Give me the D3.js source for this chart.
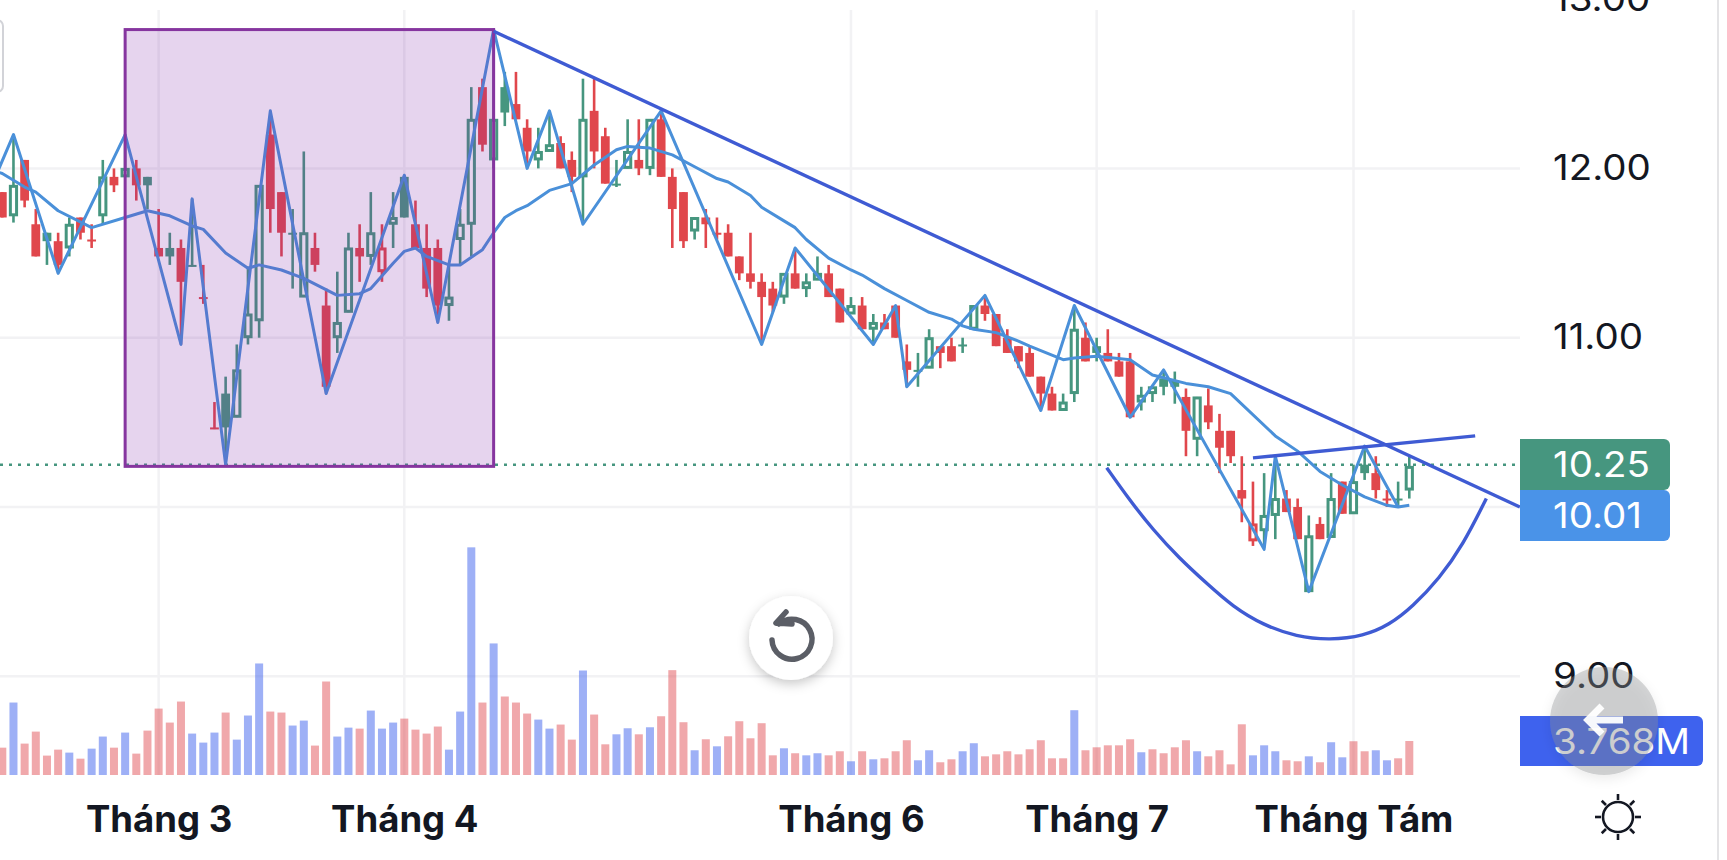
<!DOCTYPE html>
<html>
<head>
<meta charset="utf-8">
<script src="https://cdn.jsdelivr.net/npm/d3@7"></script>
<style>
  html, body { margin: 0; padding: 0; background: #fff; overflow: hidden; }
  svg { display: block; font-family: Inter, Roboto, sans-serif; }
</style>
</head>
<body>
<svg id="chart" width="1727" height="860"></svg>
<script>
// candles, one column per session: high, body top, body bottom, low
const highs = [
  11.86,12.20,12.05,11.76,11.62,11.62,11.71,11.71,11.67,12.05,12.00,12.20,12.05,11.95,11.76,11.62,
  11.58,11.82,11.43,10.62,10.77,10.96,11.42,11.90,12.34,11.86,11.76,12.10,11.62,11.29,11.39,11.62,
  11.67,11.86,11.67,11.86,11.96,11.81,11.67,11.58,11.43,11.76,12.48,12.53,12.82,12.57,12.57,12.29,
  12.24,12.34,12.19,12.10,12.53,12.53,12.24,12.05,12.29,12.29,12.29,12.34,12.00,11.86,11.71,11.76,
  11.71,11.67,11.48,11.62,11.38,11.33,11.38,11.53,11.38,11.48,11.43,11.29,11.24,11.24,11.14,11.14,
  11.19,10.96,10.91,11.05,10.95,11.00,11.00,11.19,11.24,11.14,11.05,10.95,10.95,10.77,10.71,10.67,
  11.19,11.09,11.00,11.05,10.91,10.91,10.71,10.71,10.81,10.80,10.70,10.65,10.70,10.55,10.45,10.30,
  10.15,10.20,10.30,10.10,10.05,9.95,9.94,10.20,10.15,10.25,10.36,10.30,10.10,10.15,10.30
];
const bodyTops = [
  11.86,11.90,12.05,11.67,11.62,11.57,11.67,11.71,11.58,11.95,11.95,12.00,12.00,11.95,11.53,11.53,
  11.53,11.43,11.24,10.47,10.67,10.81,11.14,11.90,12.20,11.86,11.62,11.62,11.53,11.19,11.09,11.53,
  11.53,11.62,11.53,11.71,11.95,11.67,11.53,11.53,11.24,11.67,12.29,12.48,12.29,12.48,12.38,12.24,
  12.10,12.14,12.15,12.05,12.29,12.34,12.19,11.91,12.10,12.05,12.29,12.29,11.95,11.86,11.71,11.71,
  11.62,11.62,11.48,11.38,11.33,11.29,11.38,11.38,11.33,11.38,11.38,11.29,11.19,11.19,11.09,11.09,
  11.19,10.86,10.81,11.00,10.95,10.95,10.96,11.19,11.19,11.14,11.00,10.95,10.91,10.77,10.67,10.62,
  11.05,11.00,10.95,10.91,10.86,10.86,10.66,10.71,10.76,10.75,10.65,10.65,10.60,10.45,10.45,10.10,
  9.90,9.95,10.05,10.05,10.00,9.83,9.90,10.05,10.15,10.15,10.25,10.20,10.05,10.05,10.24
];
const bodyBottoms = [
  11.71,11.72,11.81,11.48,11.57,11.43,11.53,11.62,11.58,11.72,11.90,11.95,11.90,11.90,11.48,11.48,
  11.33,11.43,11.24,10.47,10.47,10.53,11.00,11.10,11.76,11.62,11.62,11.24,11.43,10.71,11.00,11.15,
  11.48,11.48,11.39,11.67,11.71,11.53,11.29,11.19,11.19,11.58,11.67,12.14,12.05,12.33,12.29,12.10,
  12.05,12.10,12.00,11.95,11.95,12.10,11.91,11.91,12.00,12.00,12.00,11.95,11.76,11.57,11.63,11.67,
  11.62,11.48,11.38,11.33,11.24,11.19,11.24,11.29,11.29,11.34,11.24,11.09,11.14,11.05,11.05,11.05,
  11.00,10.81,10.81,10.82,10.91,10.86,10.96,11.05,11.14,10.95,10.91,10.86,10.77,10.67,10.57,10.57,
  10.67,10.86,10.91,10.86,10.77,10.53,10.62,10.67,10.71,10.71,10.45,10.40,10.50,10.35,10.30,10.05,
  9.80,9.86,9.95,9.97,9.81,9.50,9.81,9.82,9.96,9.96,10.20,10.10,10.05,10.05,10.10
];
const lows = [
  11.71,11.68,11.77,11.48,11.43,11.38,11.48,11.58,11.53,11.67,11.86,11.95,11.81,11.76,11.48,11.43,
  10.96,11.42,11.20,10.46,10.25,10.53,10.96,11.00,11.62,11.48,11.29,11.24,11.39,10.67,10.91,11.15,
  11.33,11.43,11.33,11.53,11.71,11.53,11.24,11.09,11.10,11.43,11.48,12.10,12.00,12.25,12.29,12.00,
  12.00,12.10,12.00,11.86,11.68,12.00,11.91,11.89,12.00,11.96,11.96,11.95,11.53,11.53,11.58,11.53,
  11.58,11.48,11.34,11.29,10.96,11.15,11.20,11.29,11.24,11.34,11.24,11.09,11.14,11.05,10.96,11.05,
  11.00,10.71,10.71,10.82,10.82,10.86,10.91,11.05,11.10,10.95,10.91,10.82,10.77,10.57,10.57,10.57,
  10.62,10.86,10.86,10.86,10.77,10.53,10.57,10.62,10.66,10.61,10.30,10.30,10.46,10.20,10.26,9.91,
  9.77,9.76,9.81,9.97,9.81,9.50,9.81,9.82,9.96,9.96,10.16,10.05,10.00,10.00,10.05
];
// h = hollow green, g = filled green, r = filled red, o = hollow red
const candleKinds = [
  'r','h','r','r','g','r','h','r','r','h',
  'r','h','r','g','r','g','r','g','r','r',
  'g','h','h','h','r','r','g','h','r','r',
  'h','h','r','h','o','h','g','r','r','r',
  'h','h','h','r','h','g','r','r','h','h',
  'r','r','h','r','r','g','h','r','h','r',
  'r','r','h','r','r','r','r','r','r','r',
  'h','r','h','h','r','r','h','r','h','r',
  'r','r','g','h','r','r','g','h','r','r',
  'r','r','r','r','r','h','h','r','g','r',
  'r','r','h','h','g','g','r','h','r','r',
  'r','r','o','h','h','r','r','h','r','h',
  'r','h','g','r','r','g','h'
];

// volume in millions, 1 = blue bar, 0 = pink bar
const volumes = [
  3.03,8.03,3.48,4.81,2.15,2.81,2.48,1.81,2.92,4.26,3.03,4.70,2.37,4.92,7.36,5.81,8.14,4.59,3.59,4.70,6.92,
  3.92,6.59,12.36,7.03,6.92,5.48,6.03,3.26,10.36,4.26,5.25,5.14,7.14,5.14,5.81,6.25,5.03,4.59,5.37,2.81,7.03,
  25.23,8.03,14.58,8.70,8.03,6.81,6.14,5.14,5.59,3.92,11.58,6.70,
  3.40,4.51,5.18,4.51,5.29,6.51,11.62,5.85,2.74,3.96,3.18,4.29,5.96,4.07,5.74,2.18,2.96,2.41,2.18,2.41,2.18,
  2.63,1.52,2.63,1.74,1.85,2.63,3.85,1.63,2.74,1.41,1.74,2.63,3.52,2.07,2.29,2.63,2.29,2.85,3.85,1.85,1.85,
  7.18,2.74,3.07,3.29,3.29,3.96,2.52,2.85,2.41,3.07,3.85,2.63,2.07,2.74,1.18,5.62,2.18,3.29,2.63,1.63,1.52,
  2.07,1.41,3.63,1.96,3.74,2.63,2.74,1.63,1.85,3.768
];
const volumeUp = [
  0,1,0,0,0,0,1,0,1,1,0,1,0,0,0,0,0,1,1,1,0,1,1,1,0,0,1,1,0,0,1,1,0,1,1,1,0,0,0,0,1,1,1,0,1,0,0,0,1,1,0,0,1,0,
  0,1,1,0,1,0,0,0,1,0,1,0,0,0,0,0,1,0,1,1,0,0,1,0,1,0,0,0,1,1,0,0,1,1,0,0,0,0,0,0,0,0,1,0,0,0,0,0,1,0,0,0,0,
  1,0,0,0,0,1,1,1,0,0,1,0,1,1,0,0,1,1
];

// swing line
const zigIdx = [-1,1,5,11,16,17,20,24,29,36,39,44,47,49,52,59,68,71,78,80,81,88,93,96,101,104,113,114,117,122,125];
const zigPrice = [11.89,12.20,11.38,12.20,10.96,11.82,10.25,12.34,10.67,11.96,11.09,12.82,12.00,12.34,11.67,12.34,10.96,11.53,10.96,11.19,10.71,11.25,10.57,11.19,10.53,10.81,9.75,10.30,9.50,10.36,10.00];

// moving average
const maIdx = [-1,0,1,2,3,5,8,11,13,15,17,18,20,22,23,25,27,30,32,33,35,36,37,38,40,41,43,44,45,46,47,49,51,53,55,56,58,60,62,64,65,67,68,70,71,72,74,76,77,79,81,83,85,86,87,89,91,92,95,96,98,101,103,106,108,110,114,116,118,120,122,124,125,126];
const maPrice = [11.99,11.97,11.93,11.89,11.86,11.75,11.65,11.71,11.75,11.72,11.66,11.64,11.50,11.41,11.43,11.40,11.35,11.25,11.26,11.29,11.44,11.51,11.53,11.48,11.43,11.43,11.52,11.62,11.71,11.75,11.78,11.87,11.91,12.02,12.11,12.13,12.12,12.08,12.01,11.94,11.92,11.84,11.77,11.69,11.65,11.58,11.47,11.40,11.37,11.29,11.22,11.15,11.11,11.07,11.05,11.03,10.98,10.95,10.87,10.88,10.89,10.87,10.78,10.73,10.71,10.67,10.42,10.33,10.21,10.13,10.06,10.01,10.00,10.01];

// hand drawn overlays
const boxIdx = [11, 44];
const boxPrice = [12.82, 10.24];
const trendIdx = [44, 135.9];
const trendPrice = [12.81, 10.00];
const handleIdx = [112, 131.9];
const handlePrice = [10.29, 10.42];
const cupIdx = [98.9,100.96,103.07,105.4,107.85,110.2,112.9,115.9,118.9,121.9,124.2,126.3,128.7,130.8,132.9];
const cupPrice = [10.232,10.04,9.864,9.697,9.549,9.411,9.303,9.234,9.214,9.238,9.303,9.411,9.579,9.775,10.05];

const monthIdx = [14, 36, 76, 98, 121];
const monthLabels = ['Tháng 3', 'Tháng 4', 'Tháng 6', 'Tháng 7', 'Tháng Tám'];
const priceTicks = [13, 12, 11, 10, 9];
const priceLabelTicks = [13, 12, 11, 9];
const lastPrice = 10.25;
const lastMa = 10.01;
const lastVolume = '3.768M';

const PLOT_R = 1520;
const GREEN = '#46967f';
const RED = '#e0474c';
const LINE = '#4a90d9';
const DRAW = '#3f5bd3';
const INK = '#131722';

const x = d3.scaleLinear().domain([0, 126]).range([2.3, 1409.3]);
const y = d3.scaleLinear().domain([12, 9]).range([168.4, 676.3]);
const volH = d3.scaleLinear().domain([0, 3.768]).range([775, 741]);

const svg = d3.select('#chart');
const defs = svg.append('defs');
defs.append('clipPath').attr('id', 'plot')
  .append('rect').attr('x', 0).attr('y', 0).attr('width', PLOT_R).attr('height', 860);
const shadow = defs.append('filter').attr('id', 'shadow')
  .attr('x', '-40%').attr('y', '-40%').attr('width', '180%').attr('height', '180%');
shadow.append('feDropShadow').attr('dx', 0).attr('dy', 4).attr('stdDeviation', 6)
  .attr('flood-color', '#000').attr('flood-opacity', 0.22);

// grid
const grid = svg.append('g').attr('stroke', '#f2f2f4').attr('stroke-width', 2.5);
grid.selectAll('.h').data(priceTicks.filter(d => d < 13)).join('line')
  .attr('x1', 0).attr('x2', PLOT_R).attr('y1', d => y(d)).attr('y2', d => y(d));
grid.selectAll('.v').data(monthIdx).join('line')
  .attr('x1', d => x(d)).attr('x2', d => x(d)).attr('y1', 10).attr('y2', 775);

// volume
svg.append('g').selectAll('rect').data(volumes).join('rect')
  .attr('x', (d, i) => x(i) - 4)
  .attr('width', 8)
  .attr('y', d => volH(d))
  .attr('height', d => volH(0) - volH(d))
  .attr('fill', (d, i) => volumeUp[i] ? '#3e62ee' : RED)
  .attr('fill-opacity', (d, i) => volumeUp[i] ? 0.5 : 0.47);

const plot = svg.append('g').attr('clip-path', 'url(#plot)');

// last price line
plot.append('line')
  .attr('x1', 0).attr('x2', 1515).attr('y1', y(lastPrice)).attr('y2', y(lastPrice))
  .attr('stroke', GREEN).attr('stroke-width', 2.6).attr('stroke-dasharray', '3 6');

// candles
const candles = plot.append('g').selectAll('g').data(highs).join('g');
const isGreen = i => candleKinds[i] === 'h' || candleKinds[i] === 'g';
const isHollow = i => candleKinds[i] === 'h' || candleKinds[i] === 'o';
candles.append('line')
  .attr('x1', (d, i) => x(i)).attr('x2', (d, i) => x(i))
  .attr('y1', (d, i) => y(highs[i])).attr('y2', (d, i) => y(lows[i]))
  .attr('stroke', (d, i) => isGreen(i) ? GREEN : RED).attr('stroke-width', 2.6);
candles.append('rect')
  .attr('x', (d, i) => x(i) - (isHollow(i) ? 3.1 : 4.4))
  .attr('width', (d, i) => isHollow(i) ? 6.2 : 8.8)
  .attr('y', (d, i) => y(bodyTops[i]) + (isHollow(i) ? 1 : 0))
  .attr('height', (d, i) => Math.max(y(bodyBottoms[i]) - y(bodyTops[i]) - (isHollow(i) ? 2 : 0), 2))
  .attr('fill', (d, i) => isHollow(i) ? '#fff' : (isGreen(i) ? GREEN : RED))
  .attr('stroke', (d, i) => isGreen(i) ? GREEN : RED)
  .attr('stroke-width', (d, i) => isHollow(i) ? 3 : 0);

// swing line and moving average
const priceLine = d3.line().x(d => x(d[0])).y(d => y(d[1]));
plot.append('path').datum(d3.zip(zigIdx, zigPrice))
  .attr('d', priceLine).attr('fill', 'none')
  .attr('stroke', LINE).attr('stroke-width', 3).attr('stroke-linejoin', 'round');
plot.append('path').datum(d3.zip(maIdx, maPrice))
  .attr('d', priceLine).attr('fill', 'none')
  .attr('stroke', LINE).attr('stroke-width', 3).attr('stroke-linejoin', 'round');

// drawings
plot.append('rect')
  .attr('x', x(boxIdx[0])).attr('width', x(boxIdx[1]) - x(boxIdx[0]))
  .attr('y', y(boxPrice[0])).attr('height', y(boxPrice[1]) - y(boxPrice[0]))
  .attr('fill', 'rgb(130,40,170)').attr('fill-opacity', 0.2)
  .attr('stroke', '#86359f').attr('stroke-width', 3);
plot.append('path').datum(d3.zip(trendIdx, trendPrice))
  .attr('d', priceLine).attr('fill', 'none').attr('stroke', DRAW).attr('stroke-width', 3.4);
plot.append('path').datum(d3.zip(handleIdx, handlePrice))
  .attr('d', priceLine).attr('fill', 'none').attr('stroke', DRAW).attr('stroke-width', 3.4);
plot.append('path').datum(d3.zip(cupIdx, cupPrice))
  .attr('d', d3.line().x(d => x(d[0])).y(d => y(d[1])).curve(d3.curveBasis))
  .attr('fill', 'none').attr('stroke', DRAW).attr('stroke-width', 3.4);

// month axis
const xAxis = d3.axisBottom(x).tickValues(monthIdx).tickSize(0).tickPadding(0)
  .tickFormat((d, i) => monthLabels[i]);
const xG = svg.append('g').attr('transform', 'translate(0,806)').call(xAxis);
xG.select('.domain').remove();
xG.selectAll('text')
  .attr('font-family', 'Inter, Roboto, sans-serif')
  .attr('font-size', 36.5).attr('font-weight', 700).attr('fill', INK);

// price axis, the labels in the screenshot are a little wider than the font
const yAxis = d3.axisRight(y).tickValues(priceLabelTicks).tickSize(0).tickPadding(0)
  .tickFormat(d3.format('.2f'));
const yG = svg.append('g').attr('transform', 'translate(1553,0)').call(yAxis);
yG.select('.domain').remove();
yG.selectAll('text')
  .attr('font-family', 'Inter, Roboto, sans-serif')
  .attr('font-size', 35).attr('fill', INK)
  .attr('transform', 'scale(1.1,1)');

// right hand badges
function badge(top, h, w, color, label) {
  svg.append('path')
    .attr('d', `M${PLOT_R},${top}h${w - 6}a6,6 0 0 1 6,6v${h - 12}a6,6 0 0 1 -6,6h${-(w - 6)}z`)
    .attr('fill', color);
  svg.append('text').attr('transform', `translate(1553,${top + h / 2 + 12.5}) scale(1.1,1)`)
    .attr('font-size', 35).attr('fill', '#fff').text(label);
}
badge(439, 51, 150, '#46967f', d3.format('.2f')(lastPrice));
badge(490, 51, 150, '#4a93e8', d3.format('.2f')(lastMa));
badge(716, 50, 183, '#3e62ee', lastVolume);

// partly hidden button at the top left
svg.append('rect').attr('x', -20).attr('y', 20).attr('width', 23).attr('height', 72).attr('rx', 6)
  .attr('fill', '#fff').attr('stroke', '#d2d3d8').attr('stroke-width', 2);

// reset button
svg.append('circle').attr('cx', 791).attr('cy', 638).attr('r', 42)
  .attr('fill', '#fff').attr('filter', 'url(#shadow)');
svg.append('path')
  .attr('d', 'M772,640A20,20 0 1 0 779,624M776,623L786,612M776,623L792,624')
  .attr('fill', 'none').attr('stroke', '#5b5e66').attr('stroke-width', 5.5).attr('stroke-linecap', 'round');

// back button overlay
svg.append('circle').attr('cx', 1604).attr('cy', 721).attr('r', 54)
  .attr('fill', '#8a8d91').attr('fill-opacity', 0.36).attr('filter', 'url(#shadow)');
svg.append('path')
  .attr('d', 'M1623,720H1588M1602,706L1588,720L1602,734')
  .attr('fill', 'none').attr('stroke', '#fff').attr('stroke-width', 7).attr('stroke-opacity', 0.95);

// theme icon
const sun = svg.append('g').attr('transform', 'translate(1618,817)')
  .attr('fill', 'none').attr('stroke', INK).attr('stroke-width', 2.6);
sun.append('circle').attr('r', 15);
sun.selectAll('line').data(d3.range(8)).join('line')
  .attr('x1', d => 17 * Math.cos(d * Math.PI / 4)).attr('y1', d => 17 * Math.sin(d * Math.PI / 4))
  .attr('x2', d => 23 * Math.cos(d * Math.PI / 4)).attr('y2', d => 23 * Math.sin(d * Math.PI / 4));

// window edge
svg.append('rect').attr('x', 1717).attr('y', 0).attr('width', 2).attr('height', 860).attr('fill', '#e4e4e6');
</script>
</body>
</html>
